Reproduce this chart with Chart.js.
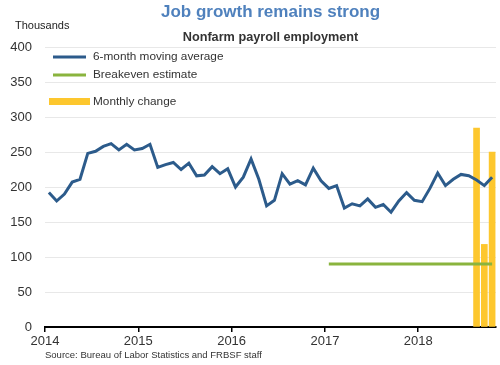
<!DOCTYPE html>
<html lang="en">
  <head>
    <meta charset="utf-8">
    <title>Job growth remains strong</title>
    <style>
      body { margin: 0; background: #fff; }
      #chart-wrap { width: 500px; height: 365px; }
    </style>
  </head>
  <body>
    <div id="chart-wrap"><canvas id="jobs-chart" width="500" height="365"></canvas></div>

    <script src="https://cdn.jsdelivr.net/npm/chart.js@4.4.1/dist/chart.umd.min.js"></script>
    <script>
    // ticks on the x axis, one per January
    const yearLabels = ['2014', '2015', '2016', '2017', '2018'];

    // 6-month moving average, Jan 2014 - Oct 2018 (thousands)
    const movingAvg = [
      192, 180, 190, 207, 211, 248, 251, 258, 262, 253, 261, 253,
      255, 261, 228, 232, 235, 225, 234, 216, 217, 229, 219, 226,
      200, 214, 240, 211, 173, 181, 219, 204, 209, 203, 227, 209,
      198, 202, 170, 176, 173, 183, 171, 175, 164, 180, 192, 181,
      179, 198, 220, 202, 211, 218, 216, 210, 202, 214
    ];

    // breakeven estimate, Jan 2017 - Oct 2018
    const breakevenStart = 36;
    const breakeven = [
      90, 90, 90, 90, 90, 90, 90, 90, 90, 90, 90, 90,
      90, 90, 90, 90, 90, 90, 90, 90, 90, 90
    ];

    // monthly change, Aug - Oct 2018
    const monthlyStart = 55;
    const monthlyChange = [284, 118, 250];

    const BLUE = '#2c5b8b';
    const GREEN = '#8ab43e';
    const YELLOW = '#fdc72e';
    const FONT = '"Liberation Sans", Arial, sans-serif';

    const toPoints = (arr, start) => arr.map((v, i) => ({ x: start + i + 0.5, y: v }));

    const textPlugin = {
      id: 'texts',
      afterDraw(chart) {
        const ctx = chart.ctx;
        const area = chart.chartArea;
        const mid = (area.left + area.right) / 2;
        ctx.save();
        ctx.textBaseline = 'middle';

        ctx.textAlign = 'center';
        ctx.fillStyle = '#4f81bd';
        ctx.font = 'bold 17px ' + FONT;
        ctx.fillText('Job growth remains strong', mid, 12);

        ctx.fillStyle = '#333';
        ctx.font = 'bold 12.7px ' + FONT;
        ctx.fillText('Nonfarm payroll employment', mid, 37);

        ctx.textAlign = 'left';
        ctx.fillStyle = '#222';
        ctx.font = '11px ' + FONT;
        ctx.fillText('Thousands', 15, 26);

        ctx.fillStyle = '#333';
        ctx.font = '9.5px ' + FONT;
        ctx.fillText('Source: Bureau of Labor Statistics and FRBSF staff', 45, 355);

        // legend
        const ds = chart.data.datasets;
        ctx.font = '11.8px ' + FONT;
        ctx.fillStyle = '#333';
        ctx.lineWidth = 3;
        ctx.strokeStyle = BLUE;
        ctx.beginPath(); ctx.moveTo(53, 57); ctx.lineTo(86, 57); ctx.stroke();
        ctx.fillText(ds[0].label, 93, 57);
        ctx.strokeStyle = GREEN;
        ctx.beginPath(); ctx.moveTo(53, 75); ctx.lineTo(86, 75); ctx.stroke();
        ctx.fillText(ds[1].label, 93, 75);
        ctx.fillStyle = YELLOW;
        ctx.fillRect(49, 98, 41, 7);
        ctx.fillStyle = '#333';
        ctx.fillText(ds[2].label, 93, 102);
        ctx.restore();
      }
    };

    new Chart(document.getElementById('jobs-chart'), {
      data: {
        datasets: [
          {
            type: 'line', label: '6-month moving average', order: 1,
            data: toPoints(movingAvg, 0),
            borderColor: BLUE, borderWidth: 3, pointRadius: 0, tension: 0
          },
          {
            type: 'line', label: 'Breakeven estimate', order: 2,
            data: toPoints(breakeven, breakevenStart),
            borderColor: GREEN, borderWidth: 3, pointRadius: 0
          },
          {
            type: 'bar', label: 'Monthly change', order: 3,
            data: toPoints(monthlyChange, monthlyStart),
            backgroundColor: YELLOW, barThickness: 6
          }
        ]
      },
      options: {
        responsive: false,
        animation: false,
        layout: { padding: { left: 0, right: 4, top: 47, bottom: 0 } },
        plugins: { legend: { display: false }, tooltip: { enabled: false } },
        scales: {
          x: {
            type: 'linear', min: 0, max: 58, offset: false,
            afterFit(s) { s.height = 38; },
            afterBuildTicks(s) { s.ticks = yearLabels.map((l, i) => ({ value: i * 12 })); },
            ticks: {
              callback: (v) => yearLabels[v / 12],
              color: '#333', font: { family: FONT, size: 13 }, padding: 2, maxRotation: 0
            },
            grid: { offset: false, drawOnChartArea: false, drawTicks: true, tickLength: 5, color: '#000', lineWidth: 1.5 },
            border: { display: true, color: '#000', width: 2 }
          },
          y: {
            min: 0, max: 400,
            afterFit(s) { s.width = 45; },
            ticks: { stepSize: 50, color: '#333', font: { family: FONT, size: 13 }, padding: 13 },
            grid: { color: '#e8e8e8', drawTicks: false },
            border: { display: false }
          }
        }
      },
      plugins: [textPlugin]
    });
    </script>
  </body>
</html>
